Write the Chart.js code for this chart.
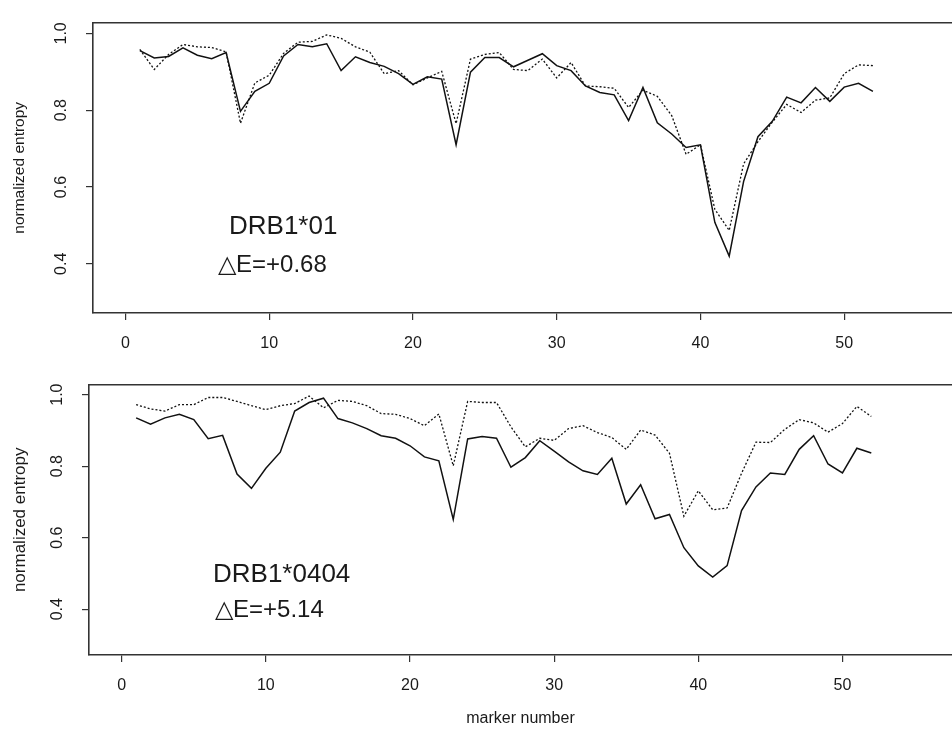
<!DOCTYPE html>
<html>
<head>
<meta charset="utf-8">
<script src="https://cdn.jsdelivr.net/npm/chart.js@4.4.1/dist/chart.umd.min.js"></script>
<style>
html,body{margin:0;padding:0;background:#fff;}
#wrap{position:relative;width:952px;height:732px;overflow:hidden;background:#fff;}
#c1{position:absolute;left:0;top:0;width:952px;height:362px;}
#c2{position:absolute;left:0;top:362px;width:952px;height:370px;}
</style>
</head>
<body>
<div id="wrap">
<canvas id="c1" width="952" height="362"></canvas>
<canvas id="c2" width="952" height="370"></canvas>
</div>
<script>
// ---- data ----
const markers = [1,2,3,4,5,6,7,8,9,10,11,12,13,14,15,16,17,18,19,20,21,22,23,24,25,26,
                 27,28,29,30,31,32,33,34,35,36,37,38,39,40,41,42,43,44,45,46,47,48,49,50,51,52];
const xTicks = [0,10,20,30,40,50];
const yTicks = [0.4,0.6,0.8,1.0];
const yTitle = 'normalized entropy';
const xTitle = 'marker number';

const drb01Solid = [0.955,0.936,0.940,0.962,0.943,0.934,0.950,0.797,0.849,0.870,
                    0.941,0.971,0.965,0.973,0.903,0.939,0.924,0.914,0.895,0.867,
                    0.887,0.881,0.710,0.899,0.937,0.937,0.913,0.930,0.947,0.916,
                    0.903,0.863,0.846,0.840,0.773,0.859,0.767,0.738,0.703,0.710,
                    0.508,0.420,0.614,0.731,0.771,0.834,0.819,0.859,0.823,0.860,
                    0.870,0.849];
const drb01Dotted = [0.958,0.906,0.945,0.971,0.965,0.963,0.952,0.766,0.871,0.891,
                     0.948,0.977,0.979,0.996,0.987,0.965,0.951,0.895,0.903,0.866,
                     0.884,0.901,0.765,0.933,0.945,0.950,0.906,0.903,0.933,0.884,
                     0.924,0.863,0.861,0.857,0.807,0.852,0.836,0.786,0.685,0.710,
                     0.542,0.487,0.660,0.718,0.769,0.815,0.794,0.826,0.832,0.895,
                     0.918,0.916];
const drb0404Solid = [0.935,0.917,0.935,0.945,0.930,0.877,0.886,0.778,0.738,0.794,
                      0.839,0.954,0.978,0.990,0.933,0.921,0.905,0.885,0.878,0.857,
                      0.826,0.815,0.651,0.876,0.883,0.878,0.797,0.824,0.871,0.842,
                      0.812,0.787,0.777,0.822,0.694,0.748,0.653,0.665,0.572,0.521,
                      0.490,0.522,0.676,0.742,0.781,0.777,0.847,0.885,0.806,0.781,
                      0.850,0.837];
const drb0404Dotted = [0.972,0.960,0.954,0.972,0.972,0.992,0.992,0.981,0.969,0.958,
                       0.969,0.975,0.996,0.963,0.984,0.981,0.969,0.947,0.945,0.933,
                       0.913,0.946,0.801,0.981,0.978,0.978,0.910,0.854,0.878,0.872,
                       0.905,0.913,0.894,0.880,0.847,0.901,0.887,0.836,0.660,0.731,
                       0.678,0.683,0.780,0.867,0.866,0.903,0.930,0.921,0.895,0.919,
                       0.967,0.939];

const panel1Labels = ['DRB1*01', '\u25B3E=+0.68'];
const panel2Labels = ['DRB1*0404', '\u25B3E=+5.14'];

// ---- drawing ----
const FONT = '"Liberation Sans", Arial, Helvetica, sans-serif';
const INK = '#1a1a1a';
const AXIS = '#333';

const annotPlugin = {
  id: 'annot',
  afterDraw(chart, args, opts) {
    const ctx = chart.ctx;
    ctx.save();
    ctx.fillStyle = INK;
    ctx.textBaseline = 'alphabetic';
    ctx.textAlign = 'left';
    for (const it of opts.items) {
      ctx.font = it.size + 'px ' + FONT;
      ctx.fillText(it.text, it.x, it.y);
    }
    ctx.restore();
  }
};

function makePanel(canvas, solid, dotted, o) {
  const ds = (vals, dash, w) => ({
    data: markers.map((m, k) => ({x: m, y: vals[k]})),
    borderColor: '#111', borderWidth: w, borderDash: dash,
    pointRadius: 0, tension: 0, fill: false
  });
  return new Chart(canvas, {
    type: 'line',
    data: {datasets: [ds(solid, [], 1.5), ds(dotted, [2, 2], 1.3)]},
    options: {
      responsive: false,
      animation: false,
      layout: {padding: {top: o.padTop, right: 0, bottom: 0, left: 0}},
      plugins: {
        legend: {display: false},
        tooltip: {enabled: false},
        annot: {items: o.annots}
      },
      scales: {
        x: {
          type: 'linear', position: 'bottom', min: o.xMin, max: o.xMax,
          afterBuildTicks: s => { s.ticks = xTicks.map(v => ({value: v})); },
          afterFit: s => { s.height = o.xHeight; },
          grid: {drawOnChartArea: false, drawTicks: true, tickLength: 7, color: AXIS, lineWidth: 1.2},
          border: {display: true, color: AXIS, width: 1.6},
          ticks: {font: {family: FONT, size: 16}, color: INK, padding: o.xPad,
                  maxRotation: 0, minRotation: 0, autoSkip: false, callback: v => String(v)},
          title: o.showXTitle ? {display: true, text: xTitle, color: INK,
                  font: {family: FONT, size: 16}, padding: {top: 0, bottom: o.xTitlePad}} : {display: false}
        },
        xTop: {
          type: 'linear', position: 'top', axis: 'x', min: o.xMin, max: o.xMax,
          afterFit: s => { s.height = 0; },
          grid: {display: false, drawTicks: false},
          border: {display: true, color: AXIS, width: 1.6},
          ticks: {display: false}
        },
        y: {
          type: 'linear', position: 'left', min: 0.272, max: 1.028,
          afterBuildTicks: s => { s.ticks = yTicks.map(v => ({value: v})); },
          afterFit: s => { s.width = o.yWidth; },
          grid: {drawOnChartArea: false, drawTicks: true, tickLength: 7, color: AXIS, lineWidth: 1.2},
          border: {display: true, color: AXIS, width: 1.6},
          ticks: {font: {family: FONT, size: 16}, color: INK, minRotation: 90, maxRotation: 90,
                  crossAlign: 'center', padding: 13, callback: v => v.toFixed(1)},
          title: {display: true, text: yTitle, color: INK,
                  font: {family: FONT, size: o.yTitleSize}, padding: {top: 10, bottom: 0}}
        }
      }
    },
    plugins: [annotPlugin]
  });
}

makePanel(document.getElementById('c1'), drb01Solid, drb01Dotted, {
  padTop: 15, xHeight: 49, xPad: 14, yWidth: 93, xMin: -2.26, xMax: 57.5,
  yTitleSize: 15.5, showXTitle: false,
  annots: [
    {text: panel1Labels[0], x: 229, y: 234, size: 26},
    {text: panel1Labels[1], x: 218, y: 272, size: 24}
  ]
});

makePanel(document.getElementById('c2'), drb0404Solid, drb0404Dotted, {
  padTop: 15, xHeight: 77, xPad: 14, yWidth: 89, xMin: -2.27, xMax: 57.6,
  yTitleSize: 17, showXTitle: true, xTitlePad: 4,
  annots: [
    {text: panel2Labels[0], x: 213, y: 220, size: 26},
    {text: panel2Labels[1], x: 215, y: 255, size: 24}
  ]
});
</script>
</body>
</html>
